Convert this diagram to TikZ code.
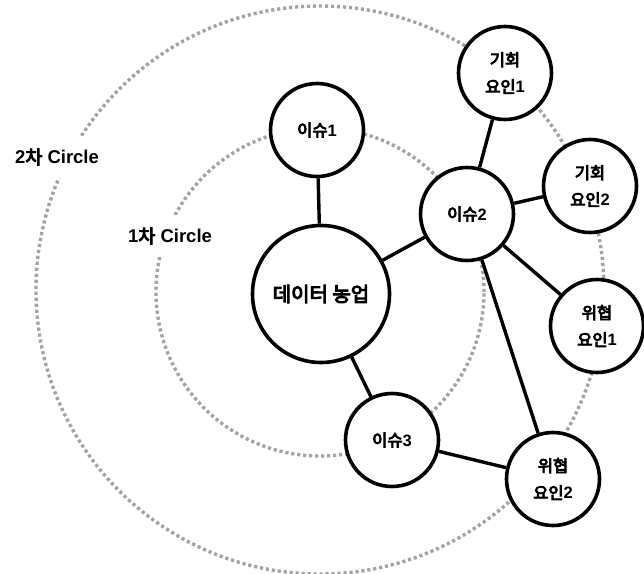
\documentclass[tikz,border=0pt]{standalone}
\usepackage{fontspec}
\setmainfont{Liberation Sans}
\newfontfamily\krfont{Noto Sans CJK KR}[FakeBold=5]
\newcommand{\kor}[1]{{\krfont\mdseries #1}}
\usetikzlibrary{positioning}
\definecolor{DotGray}{HTML}{A4A4A4}

\begin{document}
\begin{tikzpicture}[
    x=1pt, y=-1pt,
    ring/.style={draw=DotGray, line width=3.4pt, dash pattern=on 3.2pt off 2.8pt},
    hub/.style={circle, draw, line width=3.6pt, fill=white, minimum size=137pt,
      inner sep=0pt, font=\fontsize{20}{22}\selectfont\bfseries},
    topic/.style={circle, draw, line width=3.6pt, fill=white, minimum size=93pt,
      inner sep=0pt, align=center, font=\fontsize{16.5}{27}\selectfont\bfseries},
    tag/.style={fill=white, inner xsep=2pt, inner ysep=13pt,
      font=\fontsize{18.5}{22}\selectfont\bfseries},
    link/.style={line width=3.4pt},
  ]
  \useasboundingbox (0,0) rectangle (644,573);
  % dotted rings
  \draw[ring] (320,290) circle[radius=284pt];
  \draw[ring] (320,292) circle[radius=164pt];
  \node[tag] (ring2) at (57,157) {2\kor{차} Circle};
  \node[tag] (ring1) at (170,236) {1\kor{차} Circle};
  % nodes
  \node[hub] (farm) at (321,294) {\kor{데이터 농업}};
  \node[topic] (issue1) at (317,130) {\kor{이슈}1};
  \node[topic] (issue2) at (467,214) {\kor{이슈}2};
  \node[topic] (issue3) at (392,440) {\kor{이슈}3};
  \node[topic] (opp1) at (505,73) {\kor{기회}\\\kor{요인}1};
  \node[topic] (opp2) at (590,186) {\kor{기회}\\\kor{요인}2};
  \node[topic] (threat1) at (597,326) {\kor{위협}\\\kor{요인}1};
  \node[topic] (threat2) at (553,479) {\kor{위협}\\\kor{요인}2};
  % links
  \foreach \a/\b in {farm/issue1, farm/issue2, farm/issue3,
      issue2/opp1, issue2/opp2, issue2/threat1, issue2/threat2,
      issue3/threat2}
    \draw[link] (\a) -- (\b);
\end{tikzpicture}
\end{document}
